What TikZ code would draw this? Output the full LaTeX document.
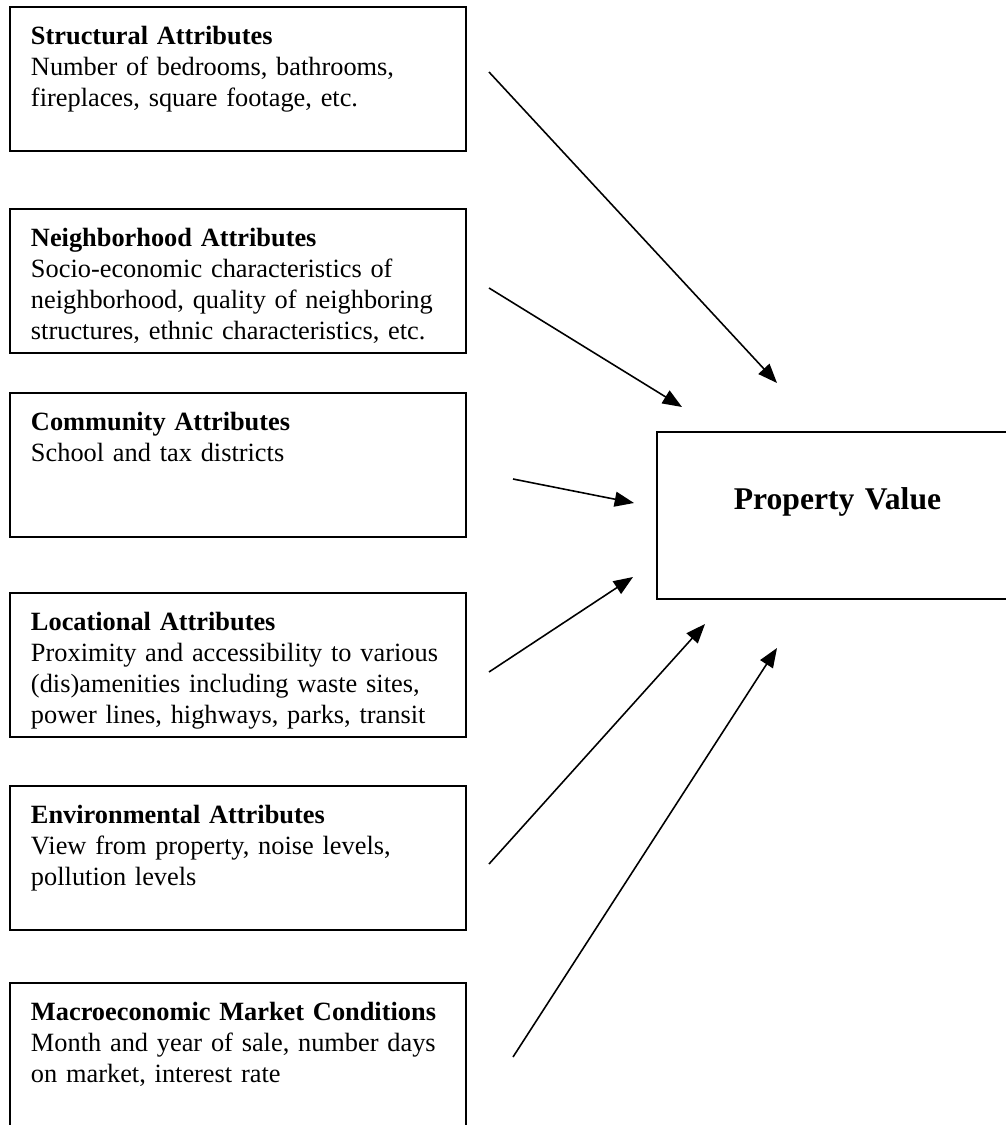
\documentclass[tikz,border=0pt]{standalone}
\usepackage{fontspec}
\setmainfont{Liberation Serif}
\usetikzlibrary{positioning}
\usetikzlibrary{arrows.meta}
\tikzstyle{attribute} = [rectangle, draw=black, line width=1pt, outer sep=0pt, anchor=north west, inner xsep=0.42cm, inner ysep=0cm, text width=8.28cm, text height=0.75cm, text depth=2.13cm, align=left, font=\fontsize{15}{17.6}\selectfont]
\tikzstyle{result} = [rectangle, draw=black, line width=1pt, outer sep=0pt, anchor=north west, inner sep=0cm, text width=7.22cm, text height=1.56cm, text depth=1.78cm, align=center, font=\fontsize{18}{21}\selectfont\bfseries]
\tikzstyle{arrow} = [line width=0.9pt, -{Triangle[length=11pt,width=8.5pt]}]

\begin{document}
\begin{tikzpicture}[x=0.02cm, y=-0.02cm]
        \useasboundingbox (0,0) rectangle (1006,1125);
        \clip (0,0) rectangle (1006,1125);

        \node (structural) [attribute] at (10,7) {\textbf{Structural Attributes}\\ Number of bedrooms, bathrooms,\\ fireplaces, square footage, etc.};
        \node (neighborhood) [attribute, below=1.16cm of structural] {\textbf{Neighborhood Attributes}\\ Socio-economic characteristics of\\ neighborhood, quality of neighboring\\ structures, ethnic characteristics, etc.};
        \node (community) [attribute, below=0.80cm of neighborhood] {\textbf{Community Attributes}\\ School and tax districts};
        \node (locational) [attribute, below=1.12cm of community] {\textbf{Locational Attributes}\\ Proximity and accessibility to various\\ (dis)amenities including waste sites,\\ power lines, highways, parks, transit};
        \node (environmental) [attribute, below=0.98cm of locational] {\textbf{Environmental Attributes}\\ View from property, noise levels,\\ pollution levels};
        \node (market) [attribute, below=1.06cm of environmental] {\textbf{Macroeconomic Market Conditions}\\ Month and year of sale, number days\\ on market, interest rate};
        \node (value) [result] at (657,432) {Property Value};

        % loose ends of the arrows
        \coordinate (structural-out) at (489,72);
        \coordinate (neighborhood-out) at (489,288);
        \coordinate (community-out) at (513,479);
        \coordinate (locational-out) at (489,672);
        \coordinate (environmental-out) at (489,864);
        \coordinate (market-out) at (513,1057);
        \coordinate (value-in1) at (777,383);
        \coordinate (value-in2) at (682,407);
        \coordinate (value-in3) at (634,503);
        \coordinate (value-in4) at (633,577);
        \coordinate (value-in5) at (705,624);
        \coordinate (value-in6) at (777,648);

        \draw [arrow] (structural-out) -- (value-in1);
        \draw [arrow] (neighborhood-out) -- (value-in2);
        \draw [arrow] (community-out) -- (value-in3);
        \draw [arrow] (locational-out) -- (value-in4);
        \draw [arrow] (environmental-out) -- (value-in5);
        \draw [arrow] (market-out) -- (value-in6);
    \end{tikzpicture}
\end{document}
